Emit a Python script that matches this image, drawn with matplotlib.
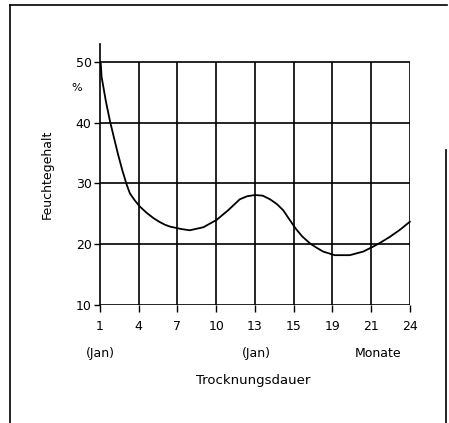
import matplotlib
matplotlib.use('Agg')
import matplotlib.pyplot as plt
from matplotlib.lines import Line2D

# Monate (gleichmaessig verteilt auf der Achse)
month_labels = ['1', '4', '7', '10', '13', '15', '19', '21', '24']
y_ticks = [10, 20, 30, 40, 50]

# Kurve (Position auf der Achse, Feuchtegehalt in %)
curve_pos = [0.02, 0.04, 0.15, 0.26, 0.37, 0.47, 0.58, 0.69, 0.77, 0.9, 1.03,
             1.2, 1.38, 1.53, 1.68, 1.81, 2.1, 2.32, 2.67, 3.01, 3.31, 3.61,
             3.8, 4.0, 4.2, 4.39, 4.57, 4.73, 4.9, 5.05, 5.22, 5.42, 5.6,
             5.76, 6.06, 6.45, 6.8, 7.05, 7.25, 7.48, 7.75, 8.0]
curve_val = [49.8, 47.6, 43.6, 40.2, 37.3, 34.7, 32.1, 29.8, 28.4, 27.2, 26.2,
             25.2, 24.3, 23.7, 23.2, 22.9, 22.5, 22.3, 22.8, 24.0, 25.6, 27.4,
             27.9, 28.1, 28.0, 27.4, 26.6, 25.6, 24.0, 22.6, 21.3, 20.15, 19.4,
             18.8, 18.2, 18.2, 18.8, 19.6, 20.3, 21.2, 22.4, 23.7]

fig = plt.figure(figsize=(4.49, 4.23), dpi=100)
ax = fig.add_axes([0.2227, 0.279, 0.690, 0.6175])

pos = list(range(len(month_labels)))
ax.set_xlim(0, 8)
ax.set_ylim(10, 53)

# Gitter
ax.hlines(y_ticks, 0, 8, color='black', lw=1.2)
ax.vlines(pos[1:], 10, 50, color='black', lw=1.2)

ax.plot(curve_pos, curve_val, color='black', lw=1.3, clip_on=False,
        solid_joinstyle='round')

for s in ['top', 'right', 'bottom']:
    ax.spines[s].set_visible(False)
ax.spines['left'].set_linewidth(1.2)

ax.set_xticks(pos)
ax.set_xticklabels(month_labels)
ax.set_yticks(y_ticks)
ax.set_yticklabels([str(v) for v in y_ticks])
ax.tick_params(axis='x', length=5, width=1.0, pad=6, labelsize=9)
ax.tick_params(axis='y', length=4, width=1.0, pad=2, labelsize=9)

ax.text(-0.6, 45.7, '%', fontsize=8, ha='center', va='center')
ax.set_ylabel('Feuchtegehalt', fontsize=9, labelpad=16)

fig.text(100 / 449, 1 - 353 / 423, '(Jan)', fontsize=9, ha='center', va='center')
fig.text(256 / 449, 1 - 353 / 423, '(Jan)', fontsize=9, ha='center', va='center')
fig.text(378 / 449, 1 - 353 / 423, 'Monate', fontsize=9, ha='center', va='center')
fig.text(253 / 449, 1 - 380 / 423, 'Trocknungsdauer', fontsize=9.5, ha='center', va='center')

# Rahmen
fig.add_artist(Line2D([10 / 449, 10 / 449], [0, 1 - 5 / 423], color='black', lw=1.2))
fig.add_artist(Line2D([10 / 449, 447 / 449], [1 - 5 / 423, 1 - 5 / 423], color='black', lw=1.2))
fig.add_artist(Line2D([446 / 449, 446 / 449], [0, 1 - 150 / 423], color='black', lw=1.2))

fig.savefig('out.png', dpi=100)
